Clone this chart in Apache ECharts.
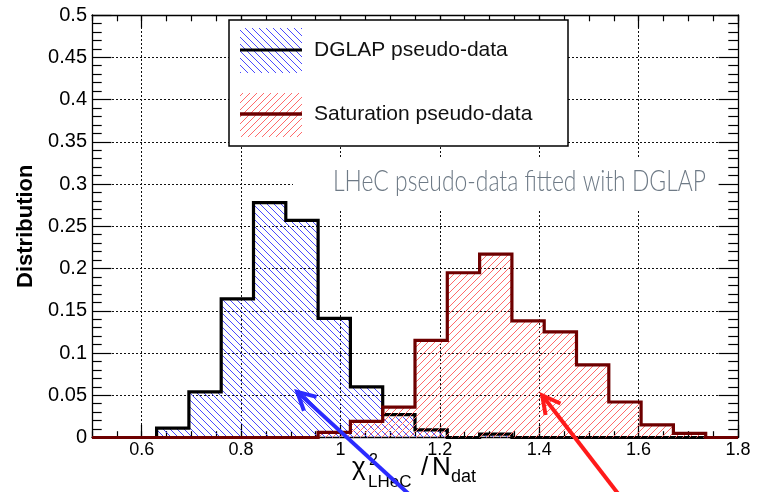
<!DOCTYPE html>
<html>
<head>
<meta charset="utf-8">
<script src="https://cdn.jsdelivr.net/npm/echarts@6/dist/echarts.min.js"></script>
<style>
  html, body { margin: 0; padding: 0; background: #fff; }
  #chart { width: 761px; height: 492px; }
</style>
</head>
<body>
<div id="chart"></div>
<script>
// Histogram bin edges in chi2_LHeC / N_dat (20 bins of width 0.065)
const binEdges = [0.5, 0.565, 0.63, 0.695, 0.76, 0.825, 0.89, 0.955, 1.02, 1.085,
                  1.15, 1.215, 1.28, 1.345, 1.41, 1.475, 1.54, 1.605, 1.67, 1.735, 1.8];

// Normalised distributions, one value per bin
const dglapValues = [0, 0, 0.011, 0.054, 0.164, 0.278, 0.257, 0.141, 0.060, 0.027,
                     0.009, 0, 0.004, 0, 0, 0, 0, 0, 0, 0];
const saturationValues = [0, 0, 0, 0, 0, 0, 0, 0.006, 0.019, 0.036,
                          0.115, 0.195, 0.217, 0.138, 0.125, 0.086, 0.042, 0.015, 0.005, 0];

// Axis ticks
const xMajorTicks = [0.6, 0.8, 1, 1.2, 1.4, 1.6, 1.8];
const yTicks = [0, 0.05, 0.1, 0.15, 0.2, 0.25, 0.3, 0.35, 0.4, 0.45, 0.5];

// Annotation arrows: [tail, head] in data coordinates
const blueArrow = [[1.147, -0.072], [0.913, 0.054]];
const redArrow = [[1.566, -0.072], [1.406, 0.050]];

const seriesNames = ['DGLAP pseudo-data', 'Saturation pseudo-data'];
const noteText = 'LHeC pseudo-data fitted with DGLAP';

const FONT = '"Liberation Sans", Arial, Helvetica, sans-serif';

// Diagonal hatch tile; dir > 0 draws "\" lines, dir < 0 draws "/" lines
function hatch(color, dir, size, lw) {
  const c = document.createElement('canvas');
  c.width = size; c.height = size;
  const g = c.getContext('2d');
  g.strokeStyle = color;
  g.lineWidth = lw;
  g.beginPath();
  for (let k = -1; k <= 1; k++) {
    if (dir > 0) { g.moveTo(k * size, 0); g.lineTo(k * size + size, size); }
    else { g.moveTo(k * size + size, 0); g.lineTo(k * size, size); }
  }
  g.stroke();
  return c;
}
const blueHatch = hatch('#4a4aff', 1, 7, 1);
const redHatch = hatch('#ff6a6a', -1, 7, 1);

// Step outline points: each bin value held until the next edge
function stepData(vals) {
  const pts = vals.map((v, i) => [binEdges[i], v]);
  pts.push([binEdges[vals.length], vals[vals.length - 1]]);
  return pts;
}

const fmt = v => String(+v.toFixed(2));

const frameLine = { show: true, lineStyle: { color: '#000', width: 1.3 } };
const xBase = { type: 'value', min: 0.5, max: 1.8, interval: 0.05 };

const chart = echarts.init(document.getElementById('chart'), null, { renderer: 'canvas' });

const option = {
  animation: false,
  backgroundColor: '#fff',
  grid: { left: 92, right: 23, top: 15, bottom: 54.5, containLabel: false },
  xAxis: [
    Object.assign({}, xBase, {
      position: 'bottom',
      axisLine: frameLine,
      axisTick: { show: true, inside: true, length: 12.7, customValues: xMajorTicks, lineStyle: { color: '#000', width: 1.2 } },
      axisLabel: { show: true, customValues: xMajorTicks, formatter: fmt, margin: 4, color: '#000', fontSize: 18, fontFamily: FONT },
      splitLine: { show: true, lineStyle: { color: '#111', width: 1, type: [2, 2] } }
    }),
    Object.assign({}, xBase, {
      position: 'bottom',
      axisLine: { show: false },
      axisTick: { show: true, inside: true, length: 6.3, lineStyle: { color: '#000', width: 1.2 } },
      axisLabel: { show: false },
      splitLine: { show: false }
    }),
    Object.assign({}, xBase, {
      position: 'top',
      axisLine: frameLine,
      axisTick: { show: true, inside: true, length: 12.7, customValues: xMajorTicks, lineStyle: { color: '#000', width: 1.2 } },
      axisLabel: { show: false },
      splitLine: { show: false }
    }),
    Object.assign({}, xBase, {
      position: 'top',
      axisLine: { show: false },
      axisTick: { show: true, inside: true, length: 6.3, lineStyle: { color: '#000', width: 1.2 } },
      axisLabel: { show: false },
      splitLine: { show: false }
    })
  ],
  yAxis: [
    {
      type: 'value', min: yTicks[0], max: yTicks[yTicks.length - 1], interval: 0.05,
      position: 'left',
      name: 'Distribution', nameLocation: 'middle', nameRotate: 90, nameGap: 50,
      nameTextStyle: { fontSize: 22, fontWeight: 'bold', color: '#000', fontFamily: FONT },
      axisLine: frameLine,
      axisTick: { show: true, inside: true, length: 19.4, lineStyle: { color: '#000', width: 1.2 } },
      minorTick: { show: true, splitNumber: 5, length: 9.7, lineStyle: { color: '#000', width: 1.2 } },
      axisLabel: { show: true, formatter: fmt, margin: 5, color: '#000', fontSize: 20, fontFamily: FONT },
      splitLine: { show: true, lineStyle: { color: '#111', width: 1, type: [2, 2] } }
    },
    {
      type: 'value', min: yTicks[0], max: yTicks[yTicks.length - 1], interval: 0.05,
      position: 'right',
      axisLine: frameLine,
      axisTick: { show: true, inside: true, length: 19.4, lineStyle: { color: '#000', width: 1.2 } },
      minorTick: { show: true, splitNumber: 5, length: 9.7, lineStyle: { color: '#000', width: 1.2 } },
      axisLabel: { show: false },
      splitLine: { show: false }
    }
  ],
  series: [
    {
      name: seriesNames[0], type: 'line', xAxisIndex: 0, yAxisIndex: 0,
      step: 'end', data: stepData(dglapValues),
      symbol: 'none', showSymbol: false, clip: false, z: 3,
      lineStyle: { color: '#000', width: 3.2, join: 'miter' },
      areaStyle: { color: { image: blueHatch, repeat: 'repeat' }, opacity: 1 }
    },
    {
      name: seriesNames[1], type: 'line', xAxisIndex: 0, yAxisIndex: 0,
      step: 'end', data: stepData(saturationValues),
      symbol: 'none', showSymbol: false, clip: false, z: 4,
      lineStyle: { color: '#6e0000', width: 3.2, join: 'miter' },
      areaStyle: { color: { image: redHatch, repeat: 'repeat' }, opacity: 1 }
    }
  ]
};
chart.setOption(option);

// Arrow with open chevron head, positioned through the cartesian axes
function arrow(pts, color) {
  const tail = chart.convertToPixel({ xAxisIndex: 0, yAxisIndex: 0 }, pts[0]);
  const tip = chart.convertToPixel({ xAxisIndex: 0, yAxisIndex: 0 }, pts[1]);
  const dx = tip[0] - tail[0], dy = tip[1] - tail[1];
  const len = Math.hypot(dx, dy);
  const ux = dx / len, uy = dy / len;
  const L = 20, a = 28 * Math.PI / 180;
  const arm = s => [tip[0] - L * (ux * Math.cos(a) - s * uy * Math.sin(a)),
                    tip[1] - L * (uy * Math.cos(a) + s * ux * Math.sin(a))];
  return [
    { type: 'polyline', z: 100, silent: true,
      shape: { points: [tail, tip] }, style: { stroke: color, lineWidth: 4, fill: null } },
    { type: 'polyline', z: 100, silent: true,
      shape: { points: [arm(1), tip, arm(-1)] }, style: { stroke: color, lineWidth: 4, fill: null, lineJoin: 'miter' } }
  ];
}

// Width-fitted hand-style note
const noteFont = '300 30px Lato, "Noto Sans", sans-serif';
const mctx = document.createElement('canvas').getContext('2d');
mctx.font = noteFont;
const noteScale = 373 / mctx.measureText(noteText).width;

const legendFont = '21px ' + FONT;

chart.setOption({
  graphic: [
    // legend box
    { type: 'rect', z: 50, shape: { x: 229, y: 20, width: 339, height: 126 },
      style: { fill: '#fff', stroke: '#000', lineWidth: 1.5 } },
    { type: 'rect', z: 51, shape: { x: 240, y: 28, width: 62, height: 45 },
      style: { fill: { image: blueHatch, repeat: 'repeat' } } },
    { type: 'line', z: 52, shape: { x1: 240, y1: 50, x2: 302, y2: 50 },
      style: { stroke: '#000', lineWidth: 2.8 } },
    { type: 'text', z: 52, x: 314, y: 50,
      style: { text: seriesNames[0], font: legendFont, fill: '#111', verticalAlign: 'middle' } },
    { type: 'rect', z: 51, shape: { x: 240, y: 93, width: 62, height: 44 },
      style: { fill: { image: redHatch, repeat: 'repeat' } } },
    { type: 'line', z: 52, shape: { x1: 240, y1: 114, x2: 302, y2: 114 },
      style: { stroke: '#6e0000', lineWidth: 3.6 } },
    { type: 'text', z: 52, x: 314, y: 114,
      style: { text: seriesNames[1], font: legendFont, fill: '#111', verticalAlign: 'middle' } },

    // note on a white panel
    { type: 'rect', z: 39, shape: { x: 293, y: 157, width: 425, height: 52 },
      style: { fill: '#fff' } },
    { type: 'text', z: 40, x: 333, y: 181, scaleX: noteScale,
      style: { text: noteText, font: noteFont, fill: '#6e7a86', verticalAlign: 'middle' } },

    // x-axis title: chi^2_LHeC / N_dat
    { type: 'text', z: 40, x: 352, y: 468, style: { text: 'χ', font: '26px ' + FONT, fill: '#000', verticalAlign: 'middle' } },
    { type: 'text', z: 40, x: 369, y: 461, style: { text: '2', font: '16px ' + FONT, fill: '#000', verticalAlign: 'middle' } },
    { type: 'text', z: 40, x: 368, y: 482, style: { text: 'LHeC', font: '17px ' + FONT, fill: '#000', verticalAlign: 'middle' } },
    { type: 'text', z: 40, x: 421, y: 468, style: { text: '/', font: '26px ' + FONT, fill: '#000', verticalAlign: 'middle' } },
    { type: 'text', z: 40, x: 432, y: 468, style: { text: 'N', font: '26px ' + FONT, fill: '#000', verticalAlign: 'middle' } },
    { type: 'text', z: 40, x: 451, y: 477, style: { text: 'dat', font: '18px ' + FONT, fill: '#000', verticalAlign: 'middle' } }
  ].concat(arrow(blueArrow, '#2b2bff'), arrow(redArrow, '#ff1a1a'))
});
</script>
</body>
</html>
